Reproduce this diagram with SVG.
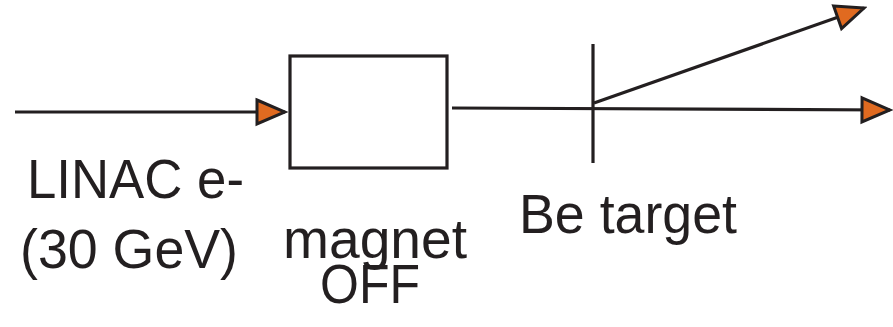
<svg xmlns="http://www.w3.org/2000/svg" width="893" height="327" viewBox="0 0 893 327">
<style>
.ln{stroke:#231f20;stroke-width:3.2;fill:none}
.lbl{font-family:"Liberation Sans",Arial,sans-serif;font-size:56px;fill:#231f20}
</style>
<defs>
<marker id="ah" markerUnits="userSpaceOnUse" markerWidth="34" markerHeight="30" refX="29" refY="13" orient="auto" viewBox="-2 -2 34 30">
<path d="M1,1 L29,13 L1,25 Z" fill="#e06a20" stroke="#231f20" stroke-width="3" stroke-linejoin="miter"/>
</marker>
</defs>
<rect width="893" height="327" fill="#ffffff"/>
<g id="connectors">
<line class="ln" x1="15" y1="112" x2="285" y2="112" marker-end="url(#ah)"/>
<line class="ln" x1="452" y1="108" x2="890" y2="110" marker-end="url(#ah)"/>
<line class="ln" x1="594" y1="103" x2="864" y2="8" marker-end="url(#ah)"/>
</g>
<g id="linac">
<text class="lbl" x="27" y="198" textLength="217" lengthAdjust="spacingAndGlyphs">LINAC e-</text>
<text class="lbl" x="20" y="268" textLength="218" lengthAdjust="spacingAndGlyphs">(30 GeV)</text>
</g>
<g id="magnet">
<rect class="ln" x="290" y="56" width="157" height="112"/>
<text class="lbl" x="283" y="258" textLength="184" lengthAdjust="spacingAndGlyphs">magnet</text>
<text class="lbl" x="320" y="303" textLength="100" lengthAdjust="spacingAndGlyphs">OFF</text>
</g>
<g id="target">
<line class="ln" x1="593" y1="44" x2="593" y2="163"/>
<text class="lbl" x="519" y="233" textLength="218" lengthAdjust="spacingAndGlyphs">Be target</text>
</g>
</svg>
